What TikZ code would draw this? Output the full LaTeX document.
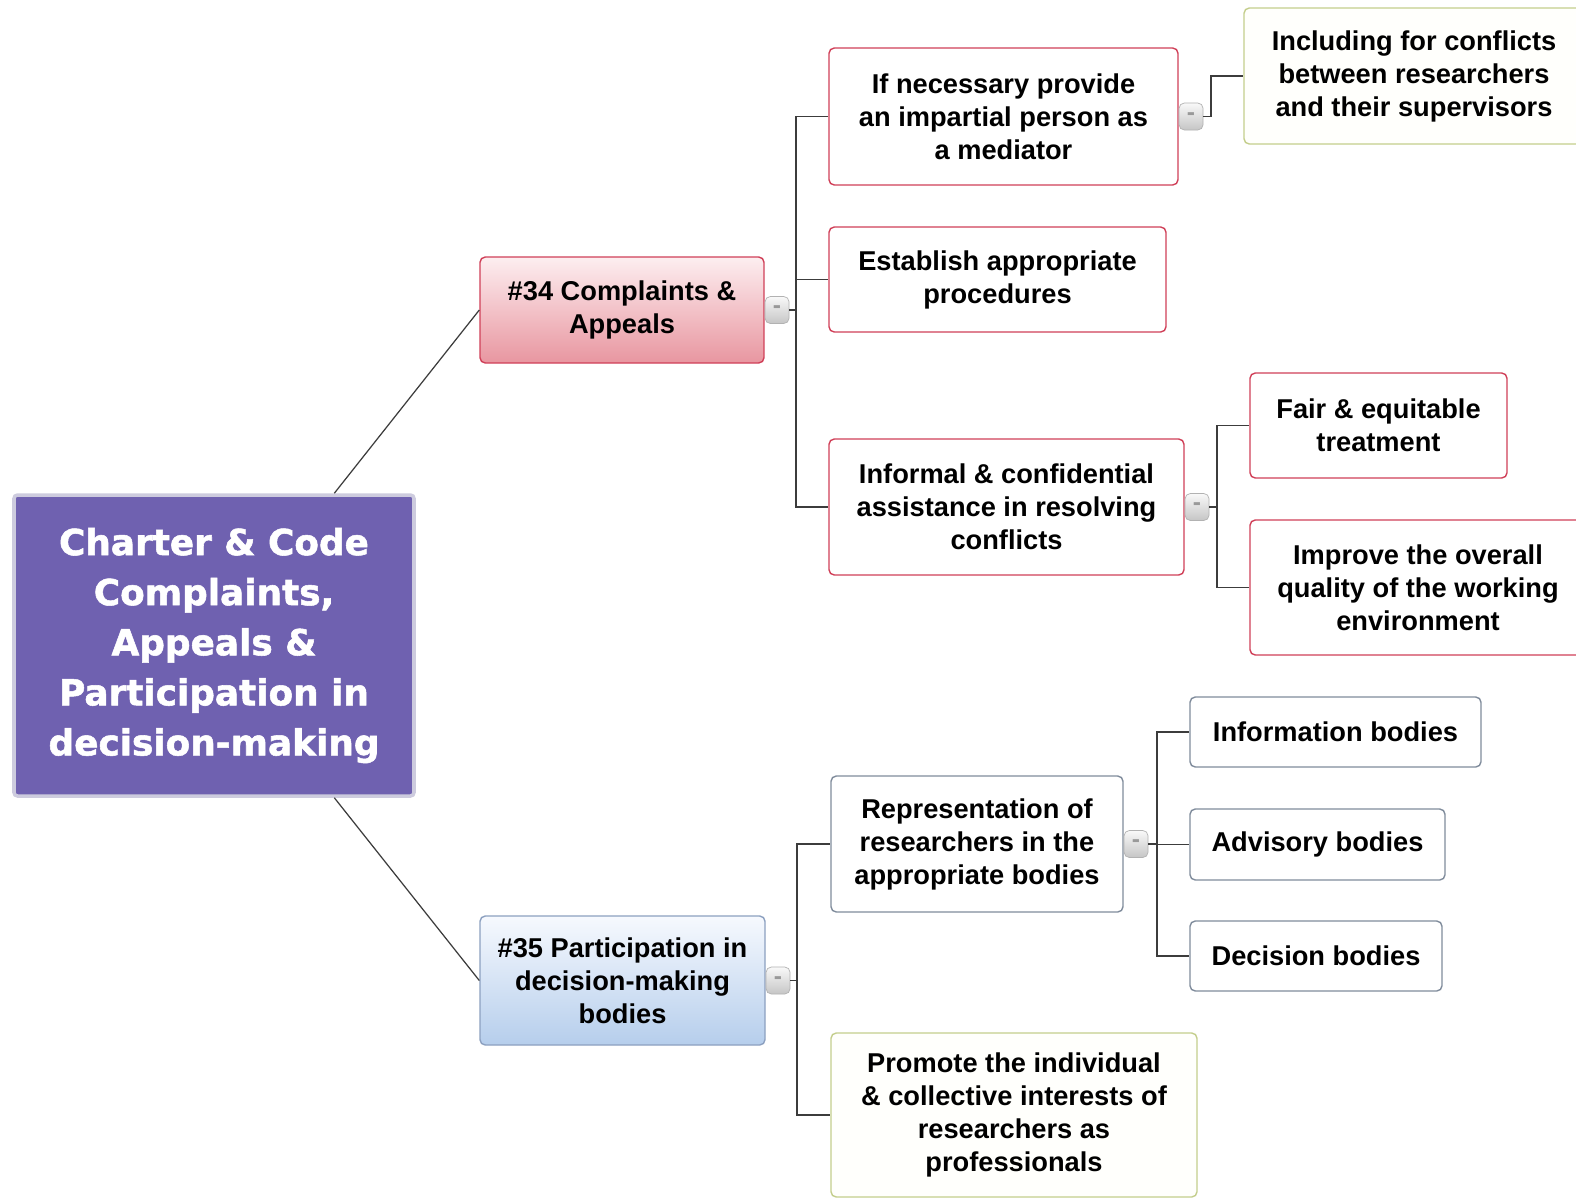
\documentclass[tikz,border=0pt]{standalone}
\usepackage{fontspec}
\setmainfont{Liberation Sans}
\newfontfamily\rootfont{DejaVu Sans Bold}[FakeBold=1.5]
\usetikzlibrary{shadings}
\definecolor{rootfill}{RGB}{111,97,176}
\definecolor{rootline}{RGB}{205,203,222}
\definecolor{redline}{RGB}{208,64,88}
\definecolor{greenline}{RGB}{196,206,140}
\definecolor{grayline}{RGB}{128,140,156}
\definecolor{blueline}{RGB}{140,160,192}
\definecolor{pinktop}{RGB}{253,238,240}
\definecolor{pinkbot}{RGB}{232,150,160}
\definecolor{bluetop}{RGB}{246,249,254}
\definecolor{bluebot}{RGB}{182,206,236}
\definecolor{wirecol}{RGB}{60,60,60}
\begin{document}
\begin{tikzpicture}[x=0.02cm, y=-0.02cm,
  every node/.style={align=center, inner sep=0pt, font=\fontsize{15.5}{18.8}\selectfont\bfseries},
  sz/.style 2 args={minimum width=#1*0.02cm, minimum height=#2*0.02cm},
  box/.style={draw, rounded corners=3pt, line width=0.8pt, fill=white},
  redbox/.style={box, draw=redline},
  greenbox/.style={box, draw=greenline, fill=yellow!1},
  graybox/.style={box, draw=grayline},
  btn/.style={draw=gray!60, rounded corners=3pt, top color=gray!5, bottom color=gray!45, sz={24}{27}, anchor=west, text=gray!80, font=\fontsize{14}{14}\selectfont\bfseries},
  wire/.style={draw=wirecol, line width=0.7pt}]
\useasboundingbox[fill=white] (0,0) rectangle (1576,1198);

\node[sz={400}{301}, fill=rootfill, draw=rootline, line width=2pt, rounded corners=2pt, text=white, font=\rootfont\fontsize{20.4}{28.5}\selectfont] (root) at (214,645.5) {Charter \& Code\\Complaints,\\Appeals \&\\Participation in\\decision-making};

\node[box, sz={284}{106}, draw=redline, top color=pinktop, bottom color=pinkbot] (c34) at (622,310) {\#34 Complaints \&\\Appeals};
\node[box, sz={285}{129}, draw=blueline, top color=bluetop, bottom color=bluebot] (c35) at (622.5,980.5) {\#35 Participation in\\decision-making\\bodies};

\node[redbox, sz={349}{137}] (med) at (1003.5,116.5) {If necessary provide\\an impartial person as\\a mediator};
\node[redbox, sz={337}{105}] (proc) at (997.5,279.5) {Establish appropriate\\procedures};
\node[redbox, sz={355}{136}] (infl) at (1006.5,507) {Informal \& confidential\\assistance in resolving\\conflicts};
\node[greenbox, sz={340}{136}] (incl) at (1414,76) {Including for conflicts\\between researchers\\and their supervisors};
\node[redbox, sz={257}{105}] (fair) at (1378.5,425.5) {Fair \& equitable\\treatment};
\node[redbox, sz={336}{135}] (impr) at (1418,587.5) {Improve the overall\\quality of the working\\environment};

\node[graybox, sz={292}{136}] (repr) at (977,844) {Representation of\\researchers in the\\appropriate bodies};
\node[greenbox, sz={366}{164}] (prom) at (1014,1115) {Promote the individual\\\& collective interests of\\researchers as\\professionals};
\node[graybox, sz={291}{70}] (info) at (1335.5,732) {Information bodies};
\node[graybox, sz={255}{71}] (advi) at (1317.5,844.5) {Advisory bodies};
\node[graybox, sz={252}{70}] (deci) at (1316,956) {Decision bodies};

% collapse buttons
\node[btn] (b34) at (c34.east) {-};
\node[btn] (b35) at (c35.east) {-};
\node[btn] (bmed) at (med.east) {-};
\node[btn] (binf) at (infl.east) {-};
\node[btn] (brep) at (repr.east) {-};

\coordinate (k34) at (796,310);
\coordinate (k35) at (797,980.5);
\coordinate (kmed) at (1211,116.5);
\coordinate (kinf) at (1217,507);
\coordinate (krep) at (1157,844);

\draw[wire] (root) -- (c34.west);
\draw[wire] (root) -- (c35.west);

\draw[wire] (b34) -- (k34) (k34) |- (med.west) (k34) |- (proc.west) (k34) |- (infl.west);
\draw[wire] (bmed) -- (kmed) |- (incl.west);
\draw[wire] (binf) -- (kinf) (kinf) |- (fair.west) (kinf) |- (impr.west);
\draw[wire] (b35) -- (k35) (k35) |- (repr.west) (k35) |- (prom.west);
\draw[wire] (brep) -- (krep) (krep) |- (info.west) (krep) |- (advi.west) (krep) |- (deci.west);
\end{tikzpicture}
\end{document}
